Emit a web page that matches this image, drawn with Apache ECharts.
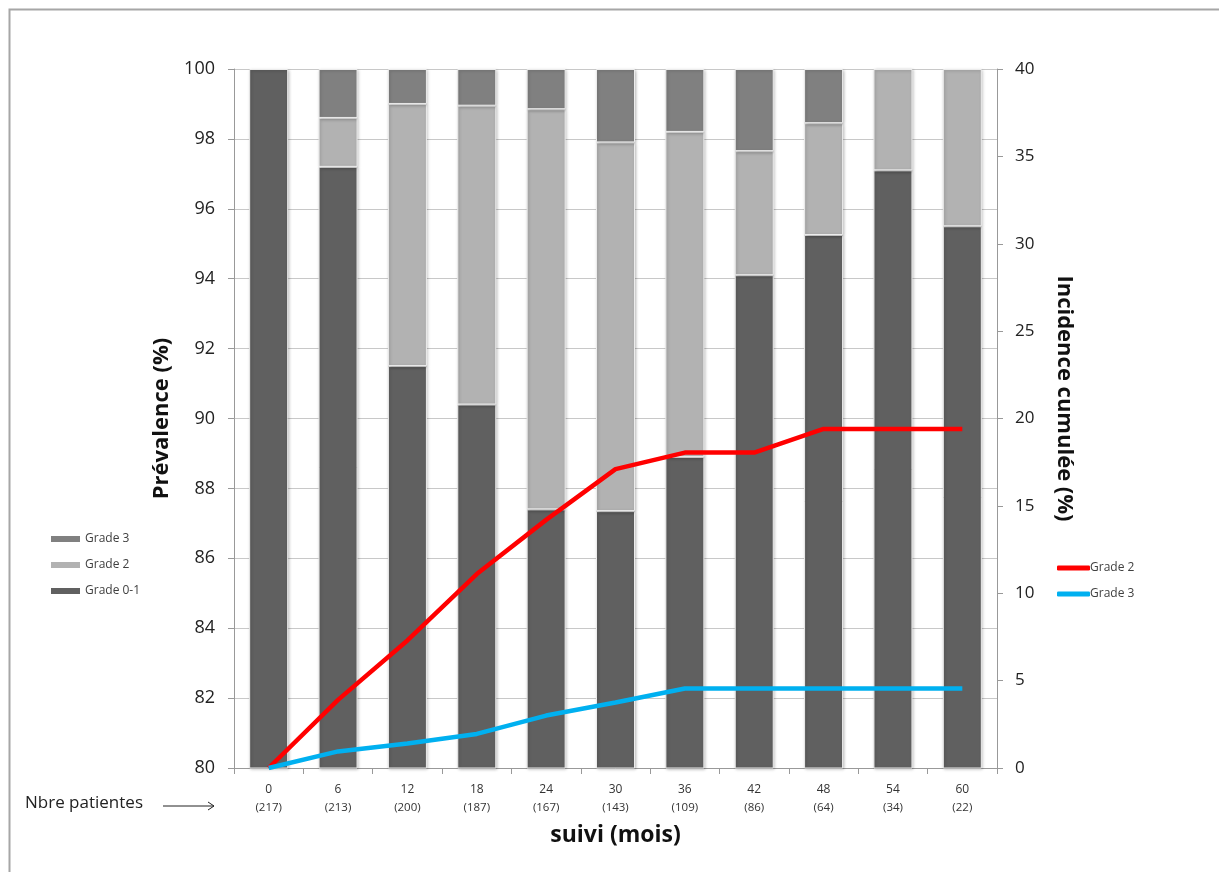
<!DOCTYPE html>
<html>
<head>
<meta charset="utf-8">
<script src="https://cdn.jsdelivr.net/npm/echarts@6/dist/echarts.min.js"></script>
<style>
html,body{margin:0;padding:0;background:#fff;}
#chart{width:1219px;height:872px;}
</style>
</head>
<body>
<div id="chart"></div>
<script>
// Categories: follow-up months and number of patients
const months = ['0','6','12','18','24','30','36','42','48','54','60'];
const patients = ['217','213','200','187','167','143','109','86','64','34','22'];

// Prevalence (%) stacked bars
const grade01 = [100, 97.2, 91.5, 90.4, 87.4, 87.35, 88.9, 94.1, 95.25, 97.1, 95.5];
const grade2  = [0, 1.4, 7.5, 8.55, 11.45, 10.55, 9.3, 3.55, 3.2, 2.9, 4.5];
const grade3  = [0, 1.4, 1.0, 1.05, 1.15, 2.1, 1.8, 2.35, 1.55, 0, 0];

// Cumulative incidence (%)
const incGrade2 = [0, 3.9, 7.3, 11.1, 14.2, 17.1, 18.05, 18.05, 19.4, 19.4, 19.4];
const incGrade3 = [0, 0.95, 1.4, 1.95, 3.0, 3.75, 4.55, 4.55, 4.55, 4.55, 4.55];

const FONT = '"Open Sans", "Noto Sans", sans-serif';
const chart = echarts.init(document.getElementById('chart'));

const barStyle = (color) => ({
  color: color,
  borderColor: '#ececec',
  borderWidth: 1,
  shadowBlur: 3,
  shadowColor: 'rgba(0,0,0,0.25)',
  shadowOffsetX: 1,
  shadowOffsetY: 1
});
const noZero = (arr) => arr.map(v => (v === 0 ? null : v));

const legendNames = {'inc2': 'Grade 2', 'inc3': 'Grade 3'};

chart.setOption({
  animation: false,
  backgroundColor: '#ffffff',
  textStyle: {fontFamily: FONT},
  grid: {left: 234, right: 222, top: 69, bottom: 104, containLabel: false},
  legend: [
    {
      data: ['Grade 3', 'Grade 2', 'Grade 0-1'],
      orient: 'vertical',
      left: 46, top: 528,
      icon: 'rect', itemWidth: 29, itemHeight: 6, itemGap: 14,
      itemStyle: {borderWidth: 0, shadowBlur: 0, shadowOffsetX: 0, shadowOffsetY: 0},
      textStyle: {fontSize: 12, color: '#404040', fontFamily: FONT}
    },
    {
      data: ['inc2', 'inc3'],
      orient: 'vertical',
      left: 1052, top: 557,
      icon: 'roundRect', itemWidth: 33, itemHeight: 5, itemGap: 14,
      formatter: (n) => legendNames[n] || n,
      textStyle: {fontSize: 12, color: '#404040', fontFamily: FONT, padding: [0,0,0,-5]}
    }
  ],
  xAxis: {
    type: 'category',
    data: months,
    boundaryGap: true,
    name: 'suivi (mois)',
    nameLocation: 'middle',
    nameGap: 56,
    nameTextStyle: {fontSize: 23, fontWeight: 'bold', color: '#111', fontFamily: FONT},
    axisLine: {lineStyle: {color: '#999', width: 1}},
    axisTick: {show: true, alignWithLabel: false, length: 6, lineStyle: {color: '#999'}},
    axisLabel: {
      interval: 0,
      margin: 13,
      color: '#333',
      fontSize: 12,
      lineHeight: 18,
      fontFamily: FONT,
      formatter: (v, i) => v + '\n{s|(' + patients[i] + ')}',
      rich: {s: {fontSize: 11.5, color: '#333', fontFamily: FONT, lineHeight: 18}}
    }
  },
  yAxis: [
    {
      type: 'value',
      min: 80, max: 100, interval: 2,
      name: 'Prévalence (%)',
      nameLocation: 'middle',
      nameRotate: 90,
      nameGap: 52,
      nameTextStyle: {fontSize: 22, fontWeight: 'bold', color: '#111', fontFamily: FONT},
      axisLine: {show: true, lineStyle: {color: '#999'}},
      axisTick: {show: true, length: 6, lineStyle: {color: '#999'}},
      axisLabel: {fontSize: 18, color: '#222', margin: 19, fontFamily: FONT},
      splitLine: {show: true, lineStyle: {color: '#c8c8c8', width: 1}}
    },
    {
      type: 'value',
      min: 0, max: 40, interval: 5,
      position: 'right',
      name: 'Incidence cumulée (%)',
      nameLocation: 'middle',
      nameRotate: -90,
      nameGap: 56,
      nameTextStyle: {fontSize: 22, fontWeight: 'bold', color: '#111', fontFamily: FONT, padding: [0, 40, 0, 0]},
      axisLine: {show: true, lineStyle: {color: '#999'}},
      axisTick: {show: true, length: 6, lineStyle: {color: '#999'}},
      axisLabel: {fontSize: 17, color: '#222', margin: 18, fontFamily: FONT},
      splitLine: {show: false}
    }
  ],
  series: [
    {name: 'Grade 0-1', type: 'bar', stack: 'prev', barWidth: 39, data: noZero(grade01), itemStyle: barStyle('#606060')},
    {name: 'Grade 2', type: 'bar', stack: 'prev', barWidth: 39, data: noZero(grade2), itemStyle: barStyle('#b2b2b2')},
    {name: 'Grade 3', type: 'bar', stack: 'prev', barWidth: 39, data: noZero(grade3), itemStyle: barStyle('#808080')},
    {name: 'inc2', type: 'line', yAxisIndex: 1, data: incGrade2, symbol: 'none', z: 5,
     lineStyle: {color: '#ff0000', width: 4.5}, itemStyle: {color: '#ff0000'}},
    {name: 'inc3', type: 'line', yAxisIndex: 1, data: incGrade3, symbol: 'none', z: 5,
     lineStyle: {color: '#00b0f0', width: 4.5}, itemStyle: {color: '#00b0f0'}}
  ],
  graphic: [
    {type: 'rect', left: 7, top: 7, z: -10, silent: true,
     shape: {width: 1211, height: 900},
     style: {fill: 'none', stroke: '#a6a6a6', lineWidth: 2}},
    {type: 'text', left: 25, top: 795, silent: true,
     style: {text: 'Nbre patientes', font: '17px ' + FONT, fill: '#222'}},
    {type: 'line', silent: true,
     shape: {x1: 163, y1: 806, x2: 214, y2: 806},
     style: {stroke: '#222', lineWidth: 1}},
    {type: 'polyline', silent: true,
     shape: {points: [[208, 802], [214, 806], [208, 810]]},
     style: {stroke: '#222', lineWidth: 1, fill: 'none'}}
  ]
});
</script>
</body>
</html>
